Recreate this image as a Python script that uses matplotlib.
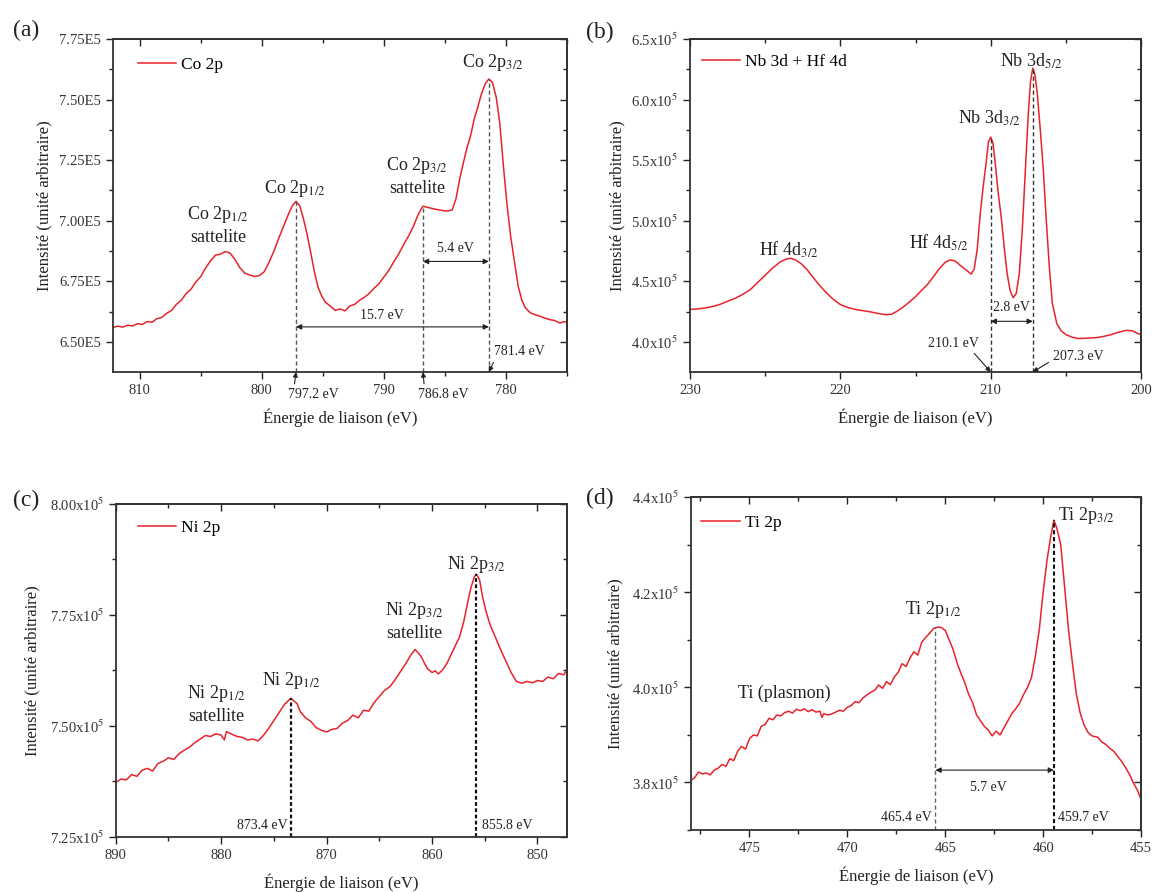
import matplotlib
matplotlib.use('Agg')
import matplotlib.pyplot as plt
from matplotlib.ticker import MultipleLocator, FuncFormatter

plt.rcParams['font.family'] = ['Liberation Serif', 'DejaVu Serif']
plt.rcParams['mathtext.fontset'] = 'stix'
plt.rcParams['axes.unicode_minus'] = False

INK = '#222222'
RED = '#e8232b'

# ---------- (a) Co 2p, intensity in units of 1e5 ----------
co_e = [812.2, 811.8, 811.4, 811.0, 810.6, 810.2, 809.8, 809.4, 809.0, 808.6,
        808.2, 807.8, 807.4, 807.0, 806.6, 806.2, 805.8, 805.4, 805.0, 804.6,
        804.2, 803.8, 803.4, 803.0, 802.6, 802.2, 801.8, 801.4, 801.0, 800.6,
        800.2, 799.8, 799.4, 799.0, 798.6, 798.2, 797.8, 797.5, 797.2, 796.9,
        796.6, 796.3, 796.0, 795.7, 795.4, 795.1, 794.8, 794.4, 794.0, 793.6,
        793.2, 792.8, 792.4, 792.0, 791.6, 791.2, 790.8, 790.4, 790.0, 789.6,
        789.2, 788.8, 788.4, 788.0, 787.6, 787.2, 786.8, 786.4, 786.0, 785.6,
        785.2, 784.8, 784.4, 784.1, 783.8, 783.5, 783.2, 782.9, 782.6, 782.3,
        782.0, 781.7, 781.4, 781.1, 780.8, 780.5, 780.2, 779.9, 779.6, 779.3,
        779.0, 778.7, 778.4, 778.0, 777.6, 777.2, 776.8, 776.4, 776.0, 775.6,
        775.2, 775.0]
co_i = [6.560, 6.565, 6.561, 6.569, 6.566, 6.575, 6.572, 6.584, 6.581, 6.596,
        6.601, 6.618, 6.630, 6.655, 6.672, 6.700, 6.718, 6.748, 6.770, 6.806,
        6.835, 6.858, 6.862, 6.873, 6.866, 6.840, 6.806, 6.784, 6.776, 6.770,
        6.774, 6.790, 6.830, 6.876, 6.930, 6.980, 7.030, 7.062, 7.080, 7.062,
        7.010, 6.945, 6.870, 6.790, 6.726, 6.690, 6.664, 6.648, 6.630, 6.636,
        6.628, 6.648, 6.655, 6.672, 6.684, 6.700, 6.722, 6.740, 6.768, 6.795,
        6.830, 6.862, 6.900, 6.935, 6.975, 7.025, 7.060, 7.055, 7.050, 7.046,
        7.042, 7.040, 7.045, 7.090, 7.170, 7.237, 7.300, 7.350, 7.420, 7.470,
        7.525, 7.565, 7.585, 7.570, 7.510, 7.400, 7.220, 7.060, 6.930, 6.830,
        6.730, 6.672, 6.640, 6.620, 6.612, 6.606, 6.598, 6.592, 6.588, 6.578,
        6.584, 6.580]
co_peaks = [797.2, 786.8, 781.4]
co_heights = [7.080, 7.060, 7.585]

# ---------- (b) Nb 3d + Hf 4d ----------
nb_e = [230.0, 229.5, 229.0, 228.5, 228.0, 227.5, 227.0, 226.5, 226.0, 225.5,
        225.0, 224.5, 224.0, 223.6, 223.3, 223.0, 222.6, 222.2, 221.8, 221.4,
        221.0, 220.5, 220.0, 219.5, 219.0, 218.5, 218.0, 217.5, 217.0, 216.6,
        216.2, 215.8, 215.4, 215.0, 214.6, 214.2, 213.8, 213.4, 213.0, 212.7,
        212.4, 212.0, 211.6, 211.3, 211.1, 210.9, 210.7, 210.5, 210.3, 210.15,
        210.0, 209.85, 209.7, 209.5, 209.3, 209.1, 208.9, 208.7, 208.5, 208.3,
        208.1, 207.9, 207.7, 207.5, 207.35, 207.2, 207.05, 206.9, 206.7, 206.5,
        206.3, 206.1, 205.9, 205.6, 205.3, 205.0, 204.6, 204.2, 203.8, 203.4,
        203.0, 202.5, 202.0, 201.5, 201.0, 200.6, 200.3, 200.0]
nb_i = [4.268, 4.272, 4.280, 4.292, 4.310, 4.335, 4.360, 4.392, 4.430, 4.490,
        4.550, 4.610, 4.660, 4.684, 4.690, 4.678, 4.645, 4.595, 4.530, 4.470,
        4.415, 4.355, 4.308, 4.284, 4.268, 4.258, 4.248, 4.235, 4.225, 4.228,
        4.255, 4.290, 4.330, 4.373, 4.425, 4.475, 4.540, 4.607, 4.660, 4.676,
        4.670, 4.630, 4.590, 4.560, 4.600, 4.760, 5.050, 5.280, 5.480, 5.650,
        5.690, 5.640, 5.480, 5.230, 5.030, 4.780, 4.560, 4.420, 4.365, 4.400,
        4.560, 4.920, 5.400, 5.880, 6.150, 6.260, 6.200, 6.050, 5.750, 5.420,
        5.000, 4.620, 4.320, 4.150, 4.090, 4.060, 4.040, 4.028, 4.030, 4.032,
        4.035, 4.045, 4.060, 4.080, 4.095, 4.092, 4.075, 4.058]
nb_peaks = [210.0, 207.2]
nb_heights = [5.690, 6.260]

# ---------- (c) Ni 2p ----------
ni_e = [890.0, 889.5, 889.0, 888.5, 888.0, 887.5, 887.0, 886.5, 886.0, 885.5,
        885.0, 884.5, 884.0, 883.5, 883.0, 882.5, 882.0, 881.5, 881.0, 880.5,
        880.0, 879.7, 879.5, 879.0, 878.5, 878.0, 877.5, 877.0, 876.5, 876.0,
        875.5, 875.0, 874.5, 874.0, 873.7, 873.4, 873.1, 872.8, 872.5, 872.0,
        871.5, 871.0, 870.5, 870.0, 869.5, 869.0, 868.5, 868.0, 867.5, 867.0,
        866.5, 866.0, 865.5, 865.0, 864.5, 864.0, 863.5, 863.0, 862.5, 862.0,
        861.6, 861.3, 861.0, 860.7, 860.4, 860.0, 859.7, 859.4, 859.0, 858.6,
        858.2, 857.8, 857.4, 857.0, 856.6, 856.3, 856.0, 855.8, 855.5, 855.2,
        854.9, 854.5, 854.0, 853.5, 853.0, 852.5, 852.0, 851.5, 851.0, 850.5,
        850.0, 849.5, 849.0, 848.5, 848.0, 847.5, 847.2]
ni_i = [7.372, 7.380, 7.378, 7.390, 7.386, 7.400, 7.404, 7.398, 7.415, 7.420,
        7.428, 7.424, 7.437, 7.445, 7.452, 7.462, 7.470, 7.478, 7.476, 7.482,
        7.479, 7.468, 7.487, 7.481, 7.476, 7.474, 7.468, 7.470, 7.466, 7.478,
        7.494, 7.512, 7.530, 7.548, 7.555, 7.562, 7.556, 7.550, 7.532, 7.518,
        7.510, 7.496, 7.490, 7.486, 7.492, 7.494, 7.506, 7.512, 7.524, 7.518,
        7.535, 7.533, 7.552, 7.566, 7.580, 7.588, 7.604, 7.622, 7.640, 7.660,
        7.672, 7.664, 7.655, 7.640, 7.628, 7.620, 7.624, 7.617, 7.626, 7.640,
        7.660, 7.680, 7.700, 7.734, 7.780, 7.812, 7.835, 7.842, 7.830, 7.790,
        7.760, 7.728, 7.700, 7.672, 7.646, 7.620, 7.600, 7.596, 7.600, 7.597,
        7.602, 7.600, 7.610, 7.606, 7.618, 7.615, 7.626]
ni_peaks = [873.4, 855.8]
ni_heights = [7.562, 7.842]

# ---------- (d) Ti 2p ----------
ti_e = [478.0, 477.8, 477.6, 477.4, 477.2, 477.0, 476.8, 476.6, 476.4, 476.2,
        476.0, 475.8, 475.6, 475.4, 475.2, 475.0, 474.8, 474.6, 474.4, 474.2,
        474.0, 473.8, 473.6, 473.4, 473.2, 473.0, 472.8, 472.6, 472.4, 472.2,
        472.0, 471.8, 471.6, 471.4, 471.3, 471.2, 471.0, 470.8, 470.6, 470.4,
        470.2, 470.0, 469.8, 469.6, 469.4, 469.2, 469.0, 468.8, 468.6, 468.4,
        468.2, 468.0, 467.8, 467.6, 467.4, 467.2, 467.0, 466.8, 466.6, 466.4,
        466.2, 466.0, 465.8, 465.6, 465.4, 465.2, 465.0, 464.8, 464.6, 464.4,
        464.2, 464.0, 463.8, 463.6, 463.4, 463.2, 463.0, 462.8, 462.6, 462.4,
        462.2, 462.0, 461.8, 461.6, 461.4, 461.2, 461.0, 460.8, 460.6, 460.4,
        460.2, 460.0, 459.8, 459.6, 459.45, 459.3, 459.1, 458.9, 458.7, 458.5,
        458.3, 458.1, 457.9, 457.7, 457.5, 457.2, 457.0, 456.8, 456.6, 456.4,
        456.2, 456.0, 455.8, 455.6, 455.4, 455.2, 455.0]
ti_i = [3.804, 3.810, 3.822, 3.818, 3.820, 3.816, 3.826, 3.830, 3.838, 3.834,
        3.850, 3.846, 3.866, 3.876, 3.870, 3.892, 3.900, 3.898, 3.918, 3.922,
        3.935, 3.932, 3.942, 3.940, 3.947, 3.950, 3.946, 3.954, 3.951, 3.955,
        3.949, 3.953, 3.948, 3.950, 3.937, 3.945, 3.942, 3.944, 3.948, 3.952,
        3.950, 3.958, 3.962, 3.970, 3.968, 3.978, 3.984, 3.990, 3.994, 4.005,
        3.998, 4.012, 4.006, 4.022, 4.032, 4.050, 4.044, 4.062, 4.075, 4.068,
        4.095, 4.105, 4.114, 4.124, 4.127, 4.126, 4.120, 4.100, 4.080, 4.052,
        4.030, 4.010, 3.985, 3.968, 3.942, 3.930, 3.918, 3.910, 3.898, 3.908,
        3.900, 3.915, 3.930, 3.945, 3.955, 3.967, 3.985, 4.000, 4.020, 4.065,
        4.120, 4.200, 4.268, 4.320, 4.352, 4.335, 4.300, 4.210, 4.120, 4.050,
        3.985, 3.945, 3.920, 3.905, 3.898, 3.895, 3.885, 3.880, 3.872, 3.866,
        3.855, 3.845, 3.832, 3.818, 3.800, 3.785, 3.765]
ti_peaks = [465.5, 459.45]
ti_heights = [4.127, 4.352]


def style_axes(ax, xlim, ylim, xstep, ystep, yfmt, ylab_x):
    ax.set_xlim(xlim)
    ax.set_ylim(ylim)
    ax.xaxis.set_major_locator(MultipleLocator(xstep))
    ax.xaxis.set_minor_locator(MultipleLocator(xstep / 2))
    ax.yaxis.set_major_locator(MultipleLocator(ystep))
    ax.yaxis.set_minor_locator(MultipleLocator(ystep / 2))
    ax.yaxis.set_major_formatter(FuncFormatter(lambda v, p: yfmt.format(v)))
    ax.tick_params(which='both', direction='out', colors=INK, width=1,
                   labelsize=10.5, labelcolor='#333333')
    ax.tick_params(which='major', length=5)
    ax.tick_params(which='minor', length=3)
    for s in ax.spines.values():
        s.set_linewidth(1.3)
        s.set_color('#333333')
    # top / right axes carry inward ticks only
    top = ax.secondary_xaxis('top')
    top.xaxis.set_major_locator(MultipleLocator(xstep))
    top.xaxis.set_minor_locator(MultipleLocator(xstep / 2))
    top.tick_params(which='both', direction='in', labeltop=False, color=INK, width=1)
    top.tick_params(which='major', length=5)
    top.tick_params(which='minor', length=3)
    right = ax.secondary_yaxis('right')
    right.yaxis.set_major_locator(MultipleLocator(ystep))
    right.yaxis.set_minor_locator(MultipleLocator(ystep / 2))
    right.tick_params(which='both', direction='in', labelright=False, color=INK, width=1)
    right.tick_params(which='major', length=5)
    right.tick_params(which='minor', length=3)
    for sec in (top, right):
        for s in sec.spines.values():
            s.set_linewidth(1.3)
            s.set_color('#333333')
    ax.set_xlabel('Énergie de liaison (eV)', fontsize=12, color=INK)
    ax.set_ylabel('Intensité (unité arbitraire)', fontsize=12, color=INK)
    ax.xaxis.set_label_coords(0.5, -0.111)
    ax.yaxis.set_label_coords(ylab_x, 0.5)


def legend(ax, x, y):
    ax.legend(loc='center left', bbox_to_anchor=(x, y), frameon=False,
              fontsize=12.5, handlelength=2.2, handletextpad=0.3,
              borderpad=0, borderaxespad=0)


def dbl_arrow(ax, e1, e2, y):
    ax.annotate('', xy=(e1, y), xytext=(e2, y),
                arrowprops=dict(arrowstyle='<|-|>', mutation_scale=8, lw=0.8,
                                color=INK, shrinkA=0, shrinkB=0))


def lbl(ax, x, y, s, size=13):
    ax.text(x, y, s, ha='center', va='center', fontsize=size, color=INK,
            linespacing=1.35)


fig = plt.figure(figsize=(11.55, 8.92), dpi=100)
ax_a = fig.add_axes([0.0978, 0.5830, 0.3931, 0.3733])
ax_b = fig.add_axes([0.5974, 0.5830, 0.3905, 0.3733])
ax_c = fig.add_axes([0.1002, 0.0620, 0.3907, 0.3730])
ax_d = fig.add_axes([0.5980, 0.0695, 0.3899, 0.3730])

# ----- (a) -----
ya = (6.376, 7.75)
ax_a.plot(co_e, co_i, color=RED, lw=1.1, label='Co 2p')
style_axes(ax_a, (812.2, 775.0), ya, 10, 0.25, '{:.2f}E5', -0.134)
legend(ax_a, 0.055, 0.922)
ax_a.vlines(co_peaks, ya[0], co_heights, colors='#555555', lw=1.0,
            linestyles=(0, (3, 2)))
lbl(ax_a, 781.1, 7.652, 'Co 2p$_{3/2}$')
lbl(ax_a, 797.26, 7.135, 'Co 2p$_{1/2}$')
lbl(ax_a, 803.6, 6.983, 'Co 2p$_{1/2}$\nsattelite')
lbl(ax_a, 787.3, 7.185, 'Co 2p$_{3/2}$\nsattelite')
dbl_arrow(ax_a, co_peaks[1], co_peaks[2], 6.832)
lbl(ax_a, 784.1, 6.886, '5.4 eV', 10)
dbl_arrow(ax_a, co_peaks[0], co_peaks[2], 6.562)
lbl(ax_a, 790.2, 6.610, '15.7 eV', 10)
arr = dict(arrowstyle='-|>', lw=0.8, color=INK, mutation_scale=7, shrinkA=1, shrinkB=0)
ax_a.annotate('781.4 eV', xy=(co_peaks[2], ya[0]), xytext=(778.9, 6.459),
              ha='center', va='center', fontsize=10, color=INK,
              arrowprops=dict(arr, relpos=(0.05, 0.2)))
ax_a.annotate('797.2 eV', xy=(co_peaks[0], ya[0]), xytext=(795.8, 6.283),
              ha='center', va='center', fontsize=10, color=INK,
              annotation_clip=False, arrowprops=dict(arr, relpos=(0.12, 0.9)))
ax_a.annotate('786.8 eV', xy=(co_peaks[1], ya[0]), xytext=(785.1, 6.283),
              ha='center', va='center', fontsize=10, color=INK,
              annotation_clip=False, arrowprops=dict(arr, relpos=(0.12, 0.9)))

# ----- (b) -----
yb = (3.752, 6.5)
ax_b.plot(nb_e, nb_i, color=RED, lw=1.1, label='Nb 3d + Hf 4d')
style_axes(ax_b, (230, 200), yb, 10, 0.5, '{:.1f}x10$^5$', -0.144)
legend(ax_b, 0.026, 0.932)
ax_b.vlines(nb_peaks, yb[0], nb_heights, colors='#333333', lw=1.0,
            linestyles=(0, (3, 2)))
lbl(ax_b, 207.27, 6.315, 'Nb 3d$_{5/2}$')
lbl(ax_b, 210.06, 5.847, 'Nb 3d$_{3/2}$')
lbl(ax_b, 223.4, 4.759, 'Hf 4d$_{3/2}$')
lbl(ax_b, 213.46, 4.814, 'Hf 4d$_{5/2}$')
dbl_arrow(ax_b, nb_peaks[0], nb_peaks[1], 4.17)
lbl(ax_b, 208.65, 4.285, '2.8 eV', 10)
ax_b.annotate('210.1 eV', xy=(nb_peaks[0], yb[0]), xytext=(212.5, 3.99),
              ha='center', va='center', fontsize=10, color=INK,
              arrowprops=dict(arr, relpos=(0.85, 0.0)))
ax_b.annotate('207.3 eV', xy=(nb_peaks[1], yb[0]), xytext=(204.2, 3.877),
              ha='center', va='center', fontsize=10, color=INK,
              arrowprops=dict(arr, relpos=(0.02, 0.3)))

# ----- (c) -----
yc = (7.25, 8.0)
ax_c.plot(ni_e, ni_i, color=RED, lw=1.1, label='Ni 2p')
style_axes(ax_c, (890, 847.2), yc, 10, 0.25, '{:.2f}x10$^5$', -0.166)
legend(ax_c, 0.049, 0.928)
ax_c.vlines(ni_peaks, yc[0], ni_heights, colors='#111111', lw=1.6,
            linestyles=(0, (1.7, 1.1)))
lbl(ax_c, 855.8, 7.863, 'Ni 2p$_{3/2}$')
lbl(ax_c, 861.7, 7.736, 'Ni 2p$_{3/2}$\nsatellite')
lbl(ax_c, 873.3, 7.601, 'Ni 2p$_{1/2}$')
lbl(ax_c, 880.45, 7.549, 'Ni 2p$_{1/2}$\nsatellite')
ax_c.text(873.7, 7.276, '873.4 eV', ha='right', va='center', fontsize=10, color=INK)
ax_c.text(855.3, 7.276, '855.8 eV', ha='left', va='center', fontsize=10, color=INK)

# ----- (d) -----
yd = (3.70, 4.40)
ax_d.plot(ti_e, ti_i, color=RED, lw=1.1, label='Ti 2p')
style_axes(ax_d, (478.0, 455.0), yd, 5, 0.2, '{:.1f}x10$^5$', -0.150)
legend(ax_d, 0.024, 0.923)
ax_d.vlines(ti_peaks[0], yd[0], ti_heights[0], colors='#666666', lw=1.0,
            linestyles=(0, (3, 2)))
ax_d.vlines(ti_peaks[1], yd[0], ti_heights[1], colors='#111111', lw=1.5,
            linestyles=(0, (2, 1.3)))
lbl(ax_d, 457.8, 4.362, 'Ti 2p$_{3/2}$')
lbl(ax_d, 465.6, 4.163, 'Ti 2p$_{1/2}$')
lbl(ax_d, 473.2, 3.988, 'Ti (plasmon)')
dbl_arrow(ax_d, ti_peaks[0], ti_peaks[1], 3.826)
lbl(ax_d, 462.8, 3.789, '5.7 eV', 10)
ax_d.text(465.68, 3.727, '465.4 eV', ha='right', va='center', fontsize=10, color=INK)
ax_d.text(459.25, 3.727, '459.7 eV', ha='left', va='center', fontsize=10, color=INK)

# panel letters
for s, px, py in [('(a)', 26, 30), ('(b)', 600, 32), ('(c)', 26, 500), ('(d)', 600, 498)]:
    fig.text(px / 1155, 1 - py / 892, s, ha='center', va='center', fontsize=17, color=INK)

fig.savefig('out.png', dpi=100)
